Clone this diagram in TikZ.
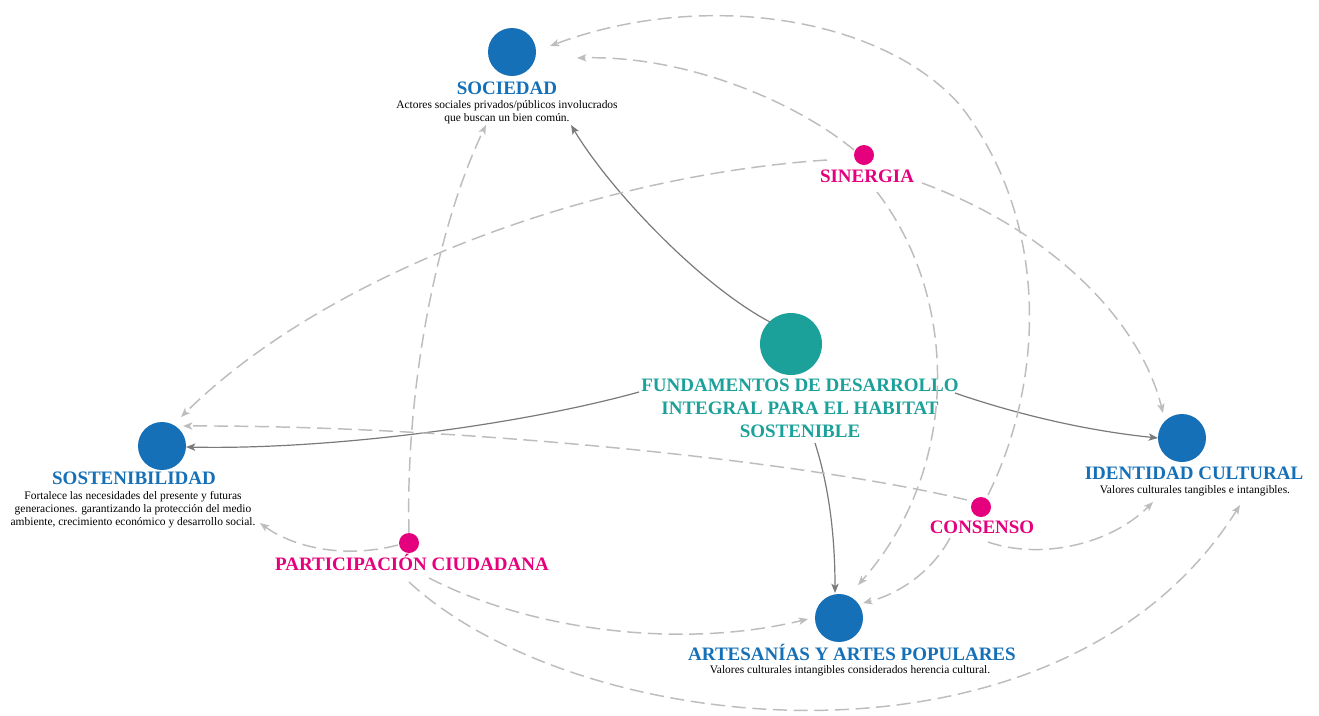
\documentclass[tikz,border=0pt]{standalone}
\usepackage{fontspec}
\setmainfont{Liberation Serif}
\usetikzlibrary{arrows.meta,calc}
\definecolor{cblue}{HTML}{1570B7}
\definecolor{cteal}{HTML}{1BA19A}
\definecolor{cpink}{HTML}{E5007D}
\definecolor{sgray}{HTML}{7A7A7A}
\definecolor{dgray}{HTML}{BDBDBD}
\definecolor{ctext}{HTML}{000000}
\begin{document}
\begin{tikzpicture}[x=0.75pt,y=-0.75pt,
  bigdot/.style={circle,fill=cblue,minimum size=36pt,inner sep=0pt},
  centerdot/.style={circle,fill=cteal,minimum size=46.5pt,inner sep=0pt},
  smalldot/.style={circle,fill=cpink,minimum size=15pt,inner sep=0pt},
  titlelbl/.style={anchor=base,inner sep=0pt,font=\fontsize{14.25}{17.25}\selectfont\bfseries},
  bluelbl/.style={titlelbl,text=cblue},
  pinklbl/.style={titlelbl,text=cpink},
  teallbl/.style={titlelbl,text=cteal,align=center},
  desclbl/.style={anchor=base,inner sep=0pt,align=center,text=ctext,font=\fontsize{8.6}{9.75}\selectfont},
  sarr/.style={draw=sgray,line width=0.9pt,-{Stealth[length=7pt,width=5.5pt,inset=1.8pt]}},
  darr/.style={draw=dgray,line width=1.1pt,dash pattern=on 10.5pt off 5pt,-{Stealth[length=7pt,width=5.5pt,inset=1.8pt]}}
]
\useasboundingbox (0,0) rectangle (1319,715);
\fill[white] (0,0) rectangle (1319,715);

% concept circles
\node[bigdot] (soc) at (512,52) {};
\node[centerdot] (fund) at (791,344) {};
\node[bigdot] (sost) at (162,446) {};
\node[bigdot] (iden) at (1182,438) {};
\node[bigdot] (arte) at (839,618) {};
\node[smalldot] (sin) at (864,155) {};
\node[smalldot] (cons) at (981,507) {};
\node[smalldot] (part) at (409,543) {};

% labels (multi-line nodes: base = baseline of last line)
\node[bluelbl] (socT) at (507,94) {SOCIEDAD};
\node[desclbl] (socD) at (507,121) {Actores sociales privados/públicos involucrados\\que buscan un bien común.};
\node[teallbl,anchor=base] (fundT) at (800,437) {FUNDAMENTOS DE DESARROLLO\\INTEGRAL PARA EL HABITAT\\SOSTENIBLE};
\node[bluelbl] (sostT) at (134,484) {SOSTENIBILIDAD};
\node[desclbl] (sostD) at (133,525) {Fortalece las necesidades del presente y futuras\\generaciones. garantizando la protección del medio\\ambiente, crecimiento económico y desarrollo social.};
\node[bluelbl] (idenT) at (1194,479) {IDENTIDAD CULTURAL};
\node[desclbl] (idenD) at (1195,493) {Valores culturales tangibles e intangibles.};
\node[bluelbl] (arteT) at (852,660) {ARTESANÍAS Y ARTES POPULARES};
\node[desclbl] (arteD) at (850,673) {Valores culturales intangibles considerados herencia cultural.};
\node[pinklbl] (sinT) at (867,182) {SINERGIA};
\node[pinklbl] (consT) at (982,533) {CONSENSO};
\node[pinklbl] (partT) at (412,570) {PARTICIPACIÓN CIUDADANA};

% solid connectors from the centre
\draw[sarr] ($(fund)+(-21,-22)$) .. controls (700,285) and (610,190) .. ($(soc)+(59,73)$);
\draw[sarr] ($(fund)+(-152,48)$) .. controls (520,425) and (330,450) .. ($(sost)+(24,1)$);
\draw[sarr] ($(fund)+(164,49)$) .. controls (1010,412) and (1080,430) .. ($(iden)+(-24,0)$);
\draw[sarr] ($(fund)+(24,99)$) .. controls (830,490) and (835,540) .. ($(arte)+(-4,-25)$);

% dashed connectors from SINERGIA
\draw[darr] ($(sin)+(-10,-5)$) .. controls (800,105) and (690,55) .. ($(soc)+(65,6)$);
\draw[darr] ($(sin)+(-37,5)$) .. controls (600,175) and (330,270) .. ($(sost)+(19,-29)$);
\draw[darr] ($(sin)+(13,37)$) .. controls (960,300) and (960,470) .. ($(arte)+(19,-33)$);
\draw[darr] ($(sin)+(58,28)$) .. controls (1050,230) and (1140,320) .. ($(iden)+(-19,-25)$);

% dashed connectors from CONSENSO
\draw[darr] ($(cons)+(7,-12)$) .. controls (1045,380) and (1050,220) .. (960,105) .. controls (880,15) and (700,-10) .. ($(soc)+(38,-6)$);
\draw[darr] ($(cons)+(-14,-7)$) .. controls (800,460) and (450,425) .. ($(sost)+(21,-20)$);
\draw[darr] ($(cons)+(-31,31)$) .. controls (930,575) and (895,595) .. ($(arte)+(24,-15)$);
\draw[darr] ($(cons)+(7,35)$) .. controls (1040,560) and (1110,545) .. ($(iden)+(-29,64)$);

% dashed connectors from PARTICIPACION CIUDADANA
\draw[darr] ($(part)+(-11,2)$) .. controls (340,560) and (290,545) .. ($(sost)+(98,77)$);
\draw[darr] ($(part)+(0,-10)$) .. controls (405,380) and (440,220) .. ($(soc)+(-26,73)$);
\draw[darr] ($(part)+(20,35)$) .. controls (530,630) and (680,650) .. ($(arte)+(-31,1)$);
\draw[darr] ($(part)+(0,39)$) .. controls (580,740) and (1060,790) .. ($(iden)+(58,67)$);
\end{tikzpicture}
\end{document}
